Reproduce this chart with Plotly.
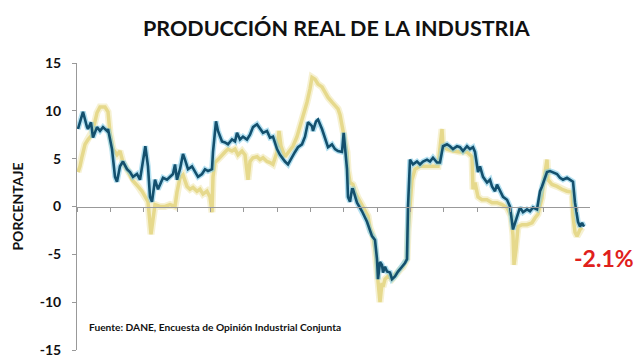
import plotly.graph_objects as go

# Time axis in decimal years (monthly data, Jan 2004 onward)
blue_x = [2004.03, 2004.18, 2004.30, 2004.33, 2004.42, 2004.48, 2004.60, 2004.69, 2004.78, 2004.90,
          2004.93, 2005.05, 2005.14, 2005.20, 2005.29, 2005.38, 2005.50, 2005.59, 2005.68, 2005.80,
          2005.89, 2005.98, 2006.05, 2006.13, 2006.19, 2006.25, 2006.34, 2006.43, 2006.52, 2006.58,
          2006.70, 2006.79, 2006.88, 2006.94, 2007.00, 2007.09, 2007.18, 2007.24, 2007.33, 2007.45,
          2007.54, 2007.63, 2007.75, 2007.84, 2007.93, 2008.05, 2008.08, 2008.17, 2008.23, 2008.35,
          2008.44, 2008.53, 2008.65, 2008.74, 2008.80, 2008.89, 2008.98, 2009.10, 2009.19, 2009.28,
          2009.40, 2009.49, 2009.58, 2009.70, 2009.79, 2009.88, 2010.00, 2010.09, 2010.18, 2010.24,
          2010.33, 2010.45, 2010.54, 2010.63, 2010.75, 2010.84, 2010.93, 2011.05, 2011.08, 2011.17,
          2011.23, 2011.35, 2011.44, 2011.53, 2011.65, 2011.74, 2011.83, 2011.95, 2012.00, 2012.10,
          2012.13, 2012.19, 2012.25, 2012.28, 2012.40, 2012.55, 2012.70, 2012.79, 2012.85, 2012.94,
          2013.00, 2013.03, 2013.09, 2013.15, 2013.18, 2013.24, 2013.30, 2013.39, 2013.45, 2013.54,
          2013.63, 2013.75, 2013.84, 2013.90, 2013.93, 2013.99, 2014.08, 2014.20, 2014.29, 2014.38,
          2014.50, 2014.59, 2014.68, 2014.80, 2014.89, 2014.98, 2015.10, 2015.19, 2015.28, 2015.40,
          2015.49, 2015.58, 2015.70, 2015.79, 2015.88, 2015.94, 2016.03, 2016.09, 2016.18, 2016.30,
          2016.39, 2016.45, 2016.54, 2016.60, 2016.69, 2016.78, 2016.90, 2016.99, 2017.08, 2017.20,
          2017.29, 2017.38, 2017.50, 2017.59, 2017.68, 2017.80, 2017.89, 2017.95, 2018.10, 2018.19,
          2018.28, 2018.40, 2018.49, 2018.58, 2018.70, 2018.79, 2018.88, 2018.94, 2019.00, 2019.03,
          2019.09, 2019.15, 2019.21]
blue_y = [8.1, 9.9, 8.3, 8.1, 8.8, 7.2, 8.3, 7.9, 8.3, 7.9,
          8.1, 6.0, 3.1, 2.6, 4.2, 4.7, 3.9, 3.6, 3.1, 3.4,
          2.8, 4.9, 6.3, 4.2, 1.0, 0.5, 2.8, 1.8, 2.5, 3.0,
          2.8, 3.1, 3.4, 4.4, 2.8, 3.9, 5.5, 4.9, 3.9, 4.2,
          3.6, 3.1, 3.4, 3.9, 3.7, 3.9, 5.7, 8.9, 7.9, 6.8,
          6.7, 6.5, 7.0, 6.8, 7.7, 7.0, 7.3, 7.0, 7.5, 8.3,
          8.6, 8.1, 7.7, 7.9, 7.2, 7.3, 6.0, 5.4, 4.9, 4.7,
          4.4, 5.2, 5.7, 6.2, 6.5, 7.3, 8.8, 8.4, 7.9, 8.9,
          9.1, 8.1, 7.2, 6.2, 6.5, 6.0, 5.8, 5.7, 7.7, 3.9,
          1.0, 0.5, 1.8, 1.8, 0.4, -0.5, -1.6, -2.6, -3.1, -3.5,
          -5.5, -7.6, -5.8, -6.1, -6.9, -6.3, -6.8, -6.9, -7.6, -7.3,
          -6.8, -6.3, -5.9, -5.5, 0.0, 4.9, 4.4, 4.7, 4.4, 4.7,
          4.9, 4.7, 5.1, 4.6, 4.6, 6.3, 6.5, 6.3, 6.0, 6.3,
          6.2, 5.8, 6.3, 6.0, 6.2, 5.7, 3.6, 4.2, 3.1, 2.5,
          2.8, 2.1, 1.6, 2.3, 1.6, 1.0, 0.7, 0.0, -2.4, -1.0,
          -0.1, -0.6, -0.3, -0.5, -0.1, -0.3, 1.6, 2.1, 3.6, 3.7,
          3.6, 3.4, 3.0, 2.8, 3.0, 2.8, 2.6, 0.4, -1.2, -1.6,
          -2.1, -1.7, -2.1]

yellow_x = [2004.03, 2004.09, 2004.15, 2004.24, 2004.33, 2004.45, 2004.48, 2004.60, 2004.69, 2004.84,
            2004.93, 2004.99, 2005.08, 2005.20, 2005.29, 2005.38, 2005.44, 2005.53, 2005.65, 2005.74,
            2005.83, 2005.95, 2006.04, 2006.13, 2006.22, 2006.34, 2006.49, 2006.64, 2006.79, 2006.94,
            2007.00, 2007.09, 2007.18, 2007.30, 2007.39, 2007.48, 2007.60, 2007.69, 2007.78, 2007.90,
            2007.99, 2008.05, 2008.08, 2008.14, 2008.23, 2008.35, 2008.44, 2008.53, 2008.65, 2008.74,
            2008.83, 2008.95, 2009.04, 2009.13, 2009.19, 2009.28, 2009.40, 2009.49, 2009.58, 2009.70,
            2009.79, 2009.88, 2010.00, 2010.06, 2010.12, 2010.24, 2010.33, 2010.48, 2010.60, 2010.69,
            2010.78, 2010.90, 2010.99, 2011.05, 2011.14, 2011.23, 2011.35, 2011.44, 2011.53, 2011.65,
            2011.74, 2011.83, 2011.89, 2011.95, 2011.98, 2012.04, 2012.10, 2012.13, 2012.19, 2012.28,
            2012.34, 2012.43, 2012.55, 2012.64, 2012.73, 2012.79, 2012.88, 2012.94, 2013.00, 2013.03,
            2013.09, 2013.15, 2013.18, 2013.24, 2013.33, 2013.45, 2013.54, 2013.69, 2013.78, 2013.90,
            2013.93, 2013.99, 2014.05, 2014.14, 2014.29, 2014.50, 2014.68, 2014.83, 2014.95, 2014.98,
            2015.10, 2015.28, 2015.49, 2015.70, 2015.85, 2015.88, 2015.94, 2016.03, 2016.15, 2016.30,
            2016.45, 2016.60, 2016.75, 2016.90, 2017.02, 2017.08, 2017.11, 2017.17, 2017.23, 2017.35,
            2017.50, 2017.65, 2017.74, 2017.83, 2017.95, 2017.98, 2018.10, 2018.13, 2018.25, 2018.40,
            2018.55, 2018.70, 2018.85, 2018.88, 2018.94, 2019.00, 2019.09, 2019.15]
yellow_y = [3.6, 4.2, 5.2, 6.5, 7.0, 7.5, 8.0, 9.8, 10.4, 10.4,
            9.9, 7.7, 6.0, 5.4, 5.8, 4.6, 4.2, 3.7, 2.8, 2.5,
            2.1, 1.6, 1.0, 0.5, -2.9, 0.2, 0.0, 0.0, 0.2, 0.0,
            1.5, 3.0, 3.3, 2.1, 1.8, 2.0, 1.6, 1.8, 1.3, 1.6,
            1.0, -0.6, 3.1, 4.6, 4.9, 5.4, 5.7, 6.0, 5.8, 6.0,
            5.4, 5.8, 5.4, 2.8, 4.7, 5.1, 5.2, 4.9, 5.1, 4.7,
            4.6, 4.4, 5.7, 7.9, 6.3, 5.2, 5.6, 6.3, 7.3, 8.3,
            9.3, 10.9, 12.3, 13.5, 13.3, 12.8, 12.5, 11.9, 11.4, 10.9,
            10.5, 10.2, 9.6, 8.6, 7.9, 6.8, 5.7, 3.9, 2.5, 2.3,
            1.5, 0.9, 0.2, -0.3, -1.0, -2.2, -3.1, -4.5, -6.9, -8.4,
            -10.0, -8.0, -8.4, -7.6, -7.3, -7.6, -7.1, -6.6, -6.3, -5.5,
            -2.7, 0.0, 2.8, 3.9, 4.2, 4.2, 4.2, 4.2, 8.1, 6.3,
            6.0, 5.8, 5.7, 5.7, 5.2, 1.8, 2.5, 1.0, 0.7, 0.7,
            0.4, 0.4, 0.2, -0.1, -1.0, -3.0, -6.1, -4.5, -2.1, -1.9,
            -1.9, -1.7, -1.2, -0.8, 0.9, 2.1, 4.9, 2.8, 2.3, 2.1,
            1.8, 1.6, 1.5, -1.0, -2.7, -3.1, -2.4, -2.2]

y_ticks = [-15, -10, -5, 0, 5, 10, 15]
y_tick_text = ["-15", "-10", "-5", "0", "5", "10", "15"]

BLUE = "#13506e"
BLUE_GLOW = "rgba(120,200,230,0.55)"
YEL = "#e6d98c"
YEL_GLOW = "rgba(240,232,180,0.6)"

fig = go.Figure()
fig.add_trace(go.Scatter(x=yellow_x, y=yellow_y, mode="lines",
                         line=dict(color=YEL_GLOW, width=7), hoverinfo="skip", showlegend=False))
fig.add_trace(go.Scatter(x=yellow_x, y=yellow_y, mode="lines",
                         line=dict(color=YEL, width=3.5), showlegend=False))
fig.add_trace(go.Scatter(x=blue_x, y=blue_y, mode="lines",
                         line=dict(color=BLUE_GLOW, width=5.5), hoverinfo="skip", showlegend=False))
fig.add_trace(go.Scatter(x=blue_x, y=blue_y, mode="lines",
                         line=dict(color=BLUE, width=2.6), showlegend=False))

fig.update_layout(
    width=640, height=360,
    margin=dict(l=77, r=50, t=63, b=10, autoexpand=False),
    paper_bgcolor="white", plot_bgcolor="white",
    font=dict(family="Lato, 'Open Sans', sans-serif", color="#111111"),
    xaxis=dict(range=[2004.0, 2019.39], tick0=2004, dtick=1, showgrid=False, zeroline=False,
               showline=True, linecolor="#999999", linewidth=1, ticks="outside", ticklen=4,
               tickcolor="#999999", showticklabels=False, anchor="free", position=0.5,
               automargin=False),
    yaxis=dict(range=[-15, 15], tickvals=y_ticks, ticktext=y_tick_text, showgrid=False,
               zeroline=False, automargin=False,
               showline=True, linecolor="#999999", linewidth=1, ticks="outside", ticklen=4,
               tickcolor="#999999", ticklabelstandoff=8,
               tickfont=dict(size=14, color="#111111", family="Lato", weight="bold"),
               title=dict(text="PORCENTAJE", standoff=12,
                          font=dict(size=14, color="#111111", family="Lato", weight="bold"))),
    annotations=[
        dict(text="PRODUCCIÓN REAL DE LA INDUSTRIA",
             xref="paper", yref="paper", x=0.507, y=1.122, xanchor="center", yanchor="middle",
             showarrow=False, font=dict(size=21.5, color="#111111", family="Lato", weight="bold")),
        dict(text="Fuente: DANE, Encuesta de Opinión Industrial Conjunta",
             xref="paper", yref="paper", x=0.019, y=0.08, xanchor="left", yanchor="middle",
             showarrow=False, font=dict(size=10.2, color="#111111", family="Lato", weight="bold")),
        dict(text="-2.1%", xref="paper", yref="paper", x=1.028, y=0.322,
             xanchor="center", yanchor="middle", showarrow=False,
             font=dict(size=23, color="#e0201c", family="Lato", weight="bold")),
    ],
)

fig.write_html("out.html", config={"displayModeBar": False},
               post_script="document.body.style.margin='0';document.body.style.padding='0';")
